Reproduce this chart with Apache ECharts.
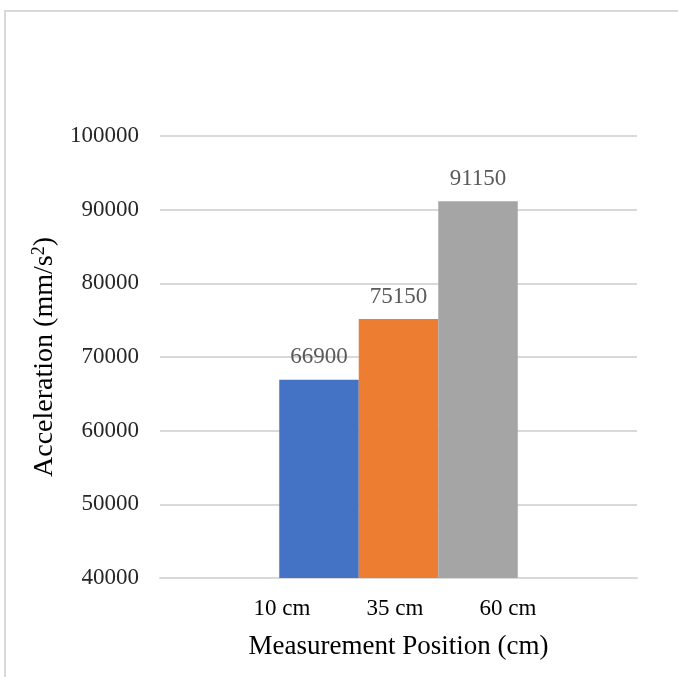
<!DOCTYPE html>
<html>
<head>
<meta charset="utf-8">
<script src="https://cdn.jsdelivr.net/npm/echarts@6/dist/echarts.min.js"></script>
<style>
  html, body { margin: 0; padding: 0; background: #ffffff; }
  #chart { width: 678px; height: 677px; }
</style>
</head>
<body>
<div id="chart"></div>
<script>
// Measured acceleration at each sensor position
const positions = ['10 cm', '35 cm', '60 cm'];
const acceleration = [66900, 75150, 91150];
const barColors = ['#4472C4', '#ED7D31', '#A5A5A5'];

// Value axis ticks
const yMin = 40000;
const yMax = 100000;
const yStep = 10000;

const SERIF = '"Liberation Serif", "Times New Roman", serif';

const chart = echarts.init(document.getElementById('chart'), null, { renderer: 'canvas' });

const series = positions.map((name, i) => ({
  name: name,
  type: 'bar',
  data: [acceleration[i]],
  barGap: '0%',
  barCategoryGap: '50%',
  itemStyle: { color: barColors[i] },
  label: {
    show: true,
    position: 'top',
    distance: 11,
    color: '#595959',
    fontFamily: SERIF,
    fontSize: 23
  }
}));

chart.setOption({
  animation: false,
  backgroundColor: '#ffffff',
  graphic: [{
    type: 'rect',
    shape: { x: 5, y: 11, width: 760, height: 760 },
    style: { fill: 'none', stroke: '#d9d9d9', lineWidth: 2 },
    silent: true
  }],
  grid: { left: 160, right: 41, top: 136, bottom: 99 },
  xAxis: {
    type: 'category',
    data: ['positions'],
    name: 'Measurement Position (cm)',
    nameLocation: 'middle',
    nameGap: 55,
    nameTextStyle: { fontFamily: SERIF, fontSize: 27, color: '#000000' },
    axisLine: { show: true, lineStyle: { color: '#d9d9d9', width: 2 } },
    axisTick: { show: false },
    axisLabel: {
      margin: 19,
      padding: [0, 7, 0, 0],
      formatter: () => positions.map(p => '{p|' + p + '}').join(''),
      rich: {
        p: { width: 113, align: 'center', fontFamily: SERIF, fontSize: 23, color: '#000000' }
      }
    }
  },
  yAxis: {
    type: 'value',
    min: yMin,
    max: yMax,
    interval: yStep,
    name: 'Acceleration (mm/s{sup|2})',
    nameLocation: 'middle',
    nameRotate: 90,
    nameGap: 100,
    nameTextStyle: {
      fontFamily: SERIF, fontSize: 28, color: '#000000',
      rich: {
        sup: { fontFamily: SERIF, fontSize: 18, color: '#000000', verticalAlign: 'top', lineHeight: 30 }
      }
    },
    axisLine: { show: false },
    axisTick: { show: false },
    axisLabel: {
      margin: 21, fontFamily: SERIF, fontSize: 23, color: '#262626',
      formatter: v => String(v)
    },
    splitLine: { lineStyle: { color: '#d9d9d9', width: 2 } }
  },
  series: series
});
</script>
</body>
</html>
